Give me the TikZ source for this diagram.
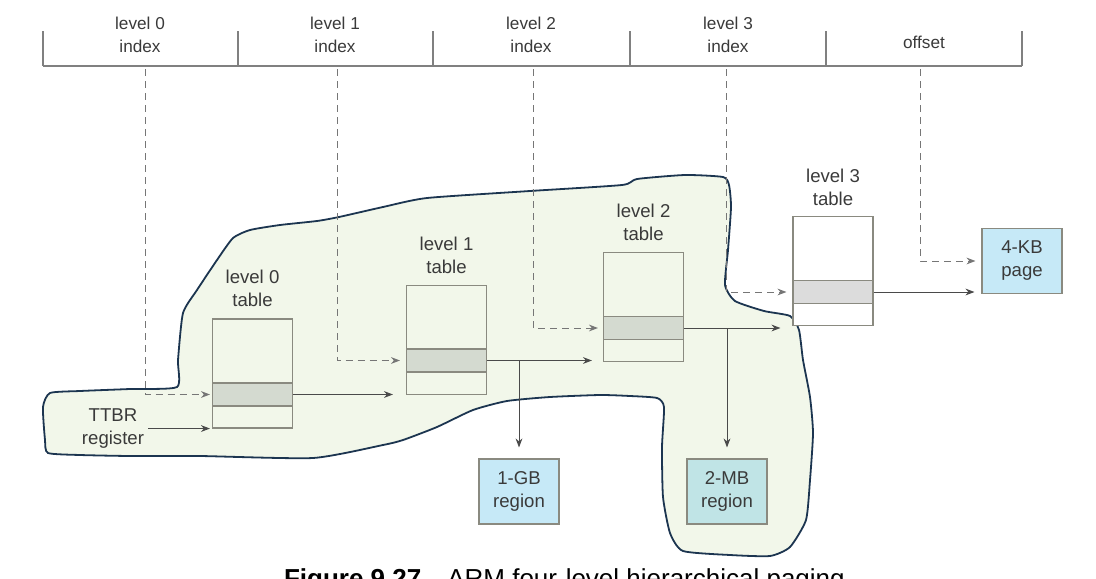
\documentclass[tikz,border=0pt]{standalone}
\usepackage{fontspec}
\setmainfont{Liberation Sans}
\usetikzlibrary{arrows.meta,calc,positioning}

\definecolor{blobfill}{HTML}{F2F7EA}
\definecolor{blobline}{HTML}{1C3550}
\definecolor{tabline}{HTML}{8A8A80}
\definecolor{entryfill}{HTML}{D4DAD0}
\definecolor{entrygray}{HTML}{DCDCDC}
\definecolor{regblue}{HTML}{C6E9F7}
\definecolor{regteal}{HTML}{C0E4E6}
\definecolor{txtgray}{HTML}{3A3A3A}
\definecolor{arrgray}{HTML}{4A4A4A}
\definecolor{dashgray}{HTML}{767676}

\begin{document}
\begin{tikzpicture}[x=0.5pt, y=-0.5pt,
  every node/.style={text=txtgray, align=center, inner sep=0pt,
                     font=\fontsize{9.3}{11.5}\selectfont},
  hdr/.style={font=\fontsize{8.6}{11.5}\selectfont},
  fieldline/.style={draw=gray, line width=0.6pt},
  tabbox/.style={draw=tabline, line width=0.55pt, minimum width=40pt, minimum height=54.5pt},
  entrybox/.style={draw=tabline, line width=0.55pt, fill=entryfill, minimum width=40pt, minimum height=11.5pt},
  regbox/.style={draw=tabline, line width=0.55pt, fill=regblue, minimum width=40pt, minimum height=32.5pt},
  ptr/.style={draw=arrgray, line width=0.5pt, -{Stealth[length=4.5pt,width=3.4pt]}},
  idx/.style={draw=dashgray, line width=0.5pt, dash pattern=on 3.5pt off 2.5pt,
              -{Stealth[length=4.5pt,width=3.4pt]}}
]
\clip (0,0) rectangle (1096,578);

% --- area covered by the block walk ---
\filldraw[fill=blobfill, draw=blobline, line width=0.9pt]
  plot[smooth cycle, tension=0.35] coordinates {
  (177,387) (178,360) (183,313) (197,290) (217,260) (233,238) (250,230)
  (280,225) (317,221) (339,217) (383,207) (427,198) (530,191) (622,185)
  (637,179) (685,175) (723,177) (729,185) (731,207) (728,250) (725,285)
  (735,301) (764,311) (790,316) (799,330) (803,360) (810,397) (813,433)
  (810,480) (806,520) (790,547) (770,556) (730,555) (683,551) (670,533)
  (663,497) (662,447) (664,407) (657,398) (630,396) (600,395) (550,397)
  (507,401) (473,410) (437,427) (403,440) (383,445) (313,458) (200,456)
  (130,456) (80,455) (48,453) (45,440) (43,407) (50,393) (80,391) (130,389)};

% --- virtual address fields ---
\draw[fieldline] (43,66) -- (1022,66);
\foreach \x in {43,238,433,630,826,1022}
  \draw[fieldline] (\x,31) -- (\x,66);
\node[hdr] (f0) at (140,35) {level 0\\index};
\node[hdr] (f1) at (335,35) {level 1\\index};
\node[hdr] (f2) at (531,35) {level 2\\index};
\node[hdr] (f3) at (728,35) {level 3\\index};
\node[hdr] (f4) at (924,42) {offset};
\coordinate (c0) at (145,69);
\coordinate (c1) at (337,69);
\coordinate (c2) at (533,69);
\coordinate (c3) at (726,69);
\coordinate (c4) at (920,69);

% --- tables ---
\node[tabbox] (tab0) at (252.5,373.5) {};
\node[tabbox] (tab1) at (446.5,340) {};
\node[tabbox] (tab2) at (643.5,307) {};
\node[tabbox, fill=white] (tab3) at (833,271) {};
\node[entrybox] (ent0) at (252.5,394.5) {};
\node[entrybox] (ent1) at (446.5,360.5) {};
\node[entrybox] (ent2) at (643.5,328) {};
\node[entrybox, fill=entrygray] (ent3) at (833,292) {};
\node (lab0) [above=5.5pt of tab0] {level 0\\table};
\node (lab1) [above=5.5pt of tab1] {level 1\\table};
\node (lab2) [above=5.5pt of tab2] {level 2\\table};
\node (lab3) [above=5pt of tab3] {level 3\\table};

% --- register and target blocks ---
\node (ttbr) at (113,428.5) {TTBR\\register};
\node[regbox] (gb) at (519,491.5) {1-GB\\region};
\node[regbox, fill=regteal] (mb) at (727,491.5) {2-MB\\region};
\node[regbox] (kb) at (1022,261) {4-KB\\page};

% indici (tratteggiati)
\draw[idx, shorten >=1pt] (c0) |- (ent0.west);
\draw[idx, shorten >=3pt] (c1) |- (ent1.west);
\draw[idx, shorten >=2.5pt] (c2) |- (ent2.west);
\draw[idx, shorten >=3pt] (c3) |- (ent3.west);
\draw[idx, shorten >=3pt] (c4) |- (kb.west);

% puntatori
\draw[ptr, shorten >=1pt] ([xshift=2pt]ttbr.east |- tab0.south west) -- (tab0.south west);
\draw[ptr, shorten >=6.5pt] (ent0.east) -- (ent0.east -| tab1.west);
\draw[ptr, shorten >=5.5pt] (ent1.east) -- (ent1.east -| tab2.west);
\draw[ptr, shorten >=6pt] (ent2.east) -- (ent2.east -| tab3.west);
\draw[ptr, shorten >=3.5pt] (ent3.east) -- (ent3.east -| kb.west);
\draw[ptr, shorten >=5.5pt] (ent1.east -| gb.north) -- (gb.north);
\draw[ptr, shorten >=5.5pt] (ent2.east -| mb.north) -- (mb.north);

% --- caption (cut by the frame) ---
\node[anchor=base, text=black, font=\fontsize{13}{15}\selectfont] (cap) at (568,587)
  {\textbf{Figure 9.27}\quad ARM four-level hierarchical paging.};
\end{tikzpicture}
\end{document}
